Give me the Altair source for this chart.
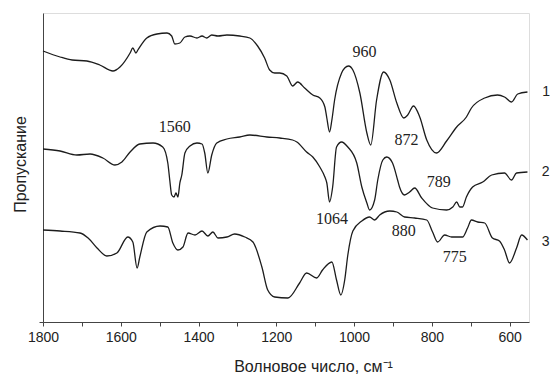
import altair as alt
import pandas as pd

# ---- data (wavenumber, cm-1 ; transmittance, arbitrary units) ----
wn1 = [1800, 1756, 1725, 1687, 1654, 1620, 1602, 1576, 1569, 1561, 1556, 1533, 1507, 1481, 1469, 1461,
       1448, 1435, 1422, 1404, 1391, 1379, 1366, 1350, 1327, 1294, 1268, 1248, 1230, 1217, 1204, 1191,
       1173, 1158, 1145, 1127, 1106, 1088, 1075, 1070, 1063, 1057, 1050, 1032, 1024, 1014, 1003, 985,
       967, 957, 942, 924, 908, 890, 872, 862, 847, 831, 813, 788, 762, 736, 711, 698, 664, 631, 613,
       595, 579, 554]
t1 = [271, 265, 262, 261, 257, 251, 255, 269, 274, 269, 272, 284, 288, 289, 286, 278,
      279, 285, 286, 284, 286, 284, 287, 286, 287, 286, 284, 276, 264, 252, 249, 249,
      246, 236, 240, 234, 227, 224, 215, 204, 190, 202, 222, 249, 254, 256, 252, 229,
      189, 177, 222, 250, 242, 219, 204, 207, 216, 205, 182, 169, 181, 195, 205, 214, 224, 227, 225,
      220, 228, 230]

wn2 = [1800, 1756, 1713, 1679, 1646, 1615, 1597, 1576, 1551, 1517, 1492, 1479, 1474, 1469, 1463, 1458,
       1453, 1448, 1443, 1435, 1422, 1404, 1391, 1384, 1376, 1366, 1353, 1327, 1294, 1268, 1224, 1191,
       1158, 1147, 1122, 1106, 1088, 1075, 1070, 1063, 1055, 1045, 1032, 1016, 993, 980, 967, 960,
       947, 939, 926, 916, 901, 888, 883, 870, 857, 844, 826, 798, 762, 746, 736, 728, 721, 711, 695,
       669, 646, 613, 595, 582, 554]
t2 = [173, 171, 167, 168, 164, 157, 160, 170, 178, 179, 175, 159, 142, 127, 125, 129,
      125, 139, 147, 169, 176, 179, 178, 169, 149, 167, 179, 183, 185, 187, 185, 184,
      182, 180, 170, 165, 155, 145, 139, 120, 135, 175, 180, 175, 159, 135, 119, 112,
      122, 142, 162, 165, 159, 142, 135, 127, 130, 134, 124, 114, 112, 115, 120, 115, 115, 125, 135,
      140, 147, 149, 142, 149, 150]

wn3 = [1800, 1756, 1705, 1684, 1661, 1636, 1610, 1582, 1569, 1558, 1551, 1533, 1499, 1479, 1466, 1453,
       1440, 1427, 1409, 1391, 1376, 1363, 1350, 1327, 1307, 1281, 1260, 1237, 1222, 1204, 1170, 1140,
       1122, 1096, 1081, 1057, 1045, 1034, 1024, 1016, 1003, 980, 960, 947, 934, 908, 890, 870, 844,
       813, 798, 785, 767, 749, 721, 708, 698, 682, 664, 644, 626, 613, 600, 582, 569, 554]
t3 = [92, 91, 89, 84, 74, 66, 69, 85, 80, 54, 65, 90, 96, 95, 79, 72,
      75, 89, 87, 91, 86, 90, 84, 85, 88, 85, 80, 55, 32, 25, 24, 39,
      49, 44, 52, 60, 42, 27, 42, 67, 91, 101, 105, 102, 107, 111, 110, 105, 104,
      102, 90, 80, 87, 85, 85, 94, 102, 100, 99, 84, 81, 72, 59, 74, 87, 82]

peak_text = ["960", "1560", "872", "789", "1064", "880", "775"]
peak_wn = [973, 1461, 865, 782, 1057, 872, 741]
peak_t = [270, 195, 182, 140, 103, 91, 65]

curve_names = ["1", "2", "3"]
curve_label_wn = [506, 507, 507]
curve_label_t = [230, 150, 80]

# ---- tables ----
rows = []
for name, xs, ys in zip(curve_names, [wn1, wn2, wn3], [t1, t2, t3]):
    for i, (x, y) in enumerate(zip(xs, ys)):
        rows.append({"curve": name, "wn": x, "t": y, "order": i})
spectra = pd.DataFrame(rows)
peaks = pd.DataFrame({"label": peak_text, "wn": peak_wn, "t": peak_t})
clabels = pd.DataFrame({"label": curve_names, "wn": curve_label_wn, "t": curve_label_t})

xscale = alt.Scale(domain=[550, 1800], reverse=True, nice=False, zero=False)
yscale = alt.Scale(domain=[0, 309], nice=False, zero=False)

xaxis = alt.Axis(
    values=list(range(600, 1801, 100)),
    format="d",
    labelExpr="datum.value % 200 == 0 ? datum.label : ''",
    labelFlush=False, labelOverlap=False,
    title="Волновое число, см⁻¹",
    titleFont="Liberation Sans", titleFontSize=16, titleFontWeight="normal", titleColor="#222",
    titleX=270, titleY=44, titleAlign="center", titleBaseline="middle",
    labelFont="Liberation Sans", labelFontSize=14, labelColor="#222", labelPadding=4,
    tickSize=4, tickColor="#444", domainColor="#444", grid=False,
)
yaxis = alt.Axis(
    values=[0], labels=False, tickSize=4, tickColor="#444", domainColor="#444", grid=False,
    title="Пропускание",
    titleFont="Liberation Sans", titleFontSize=16, titleFontWeight="normal", titleColor="#222",
    titleX=-23, titleY=151, titleAngle=-90, titleAlign="center", titleBaseline="middle",
)

lines = alt.Chart(spectra).mark_line(
    interpolate="monotone", color="#1c1c1c", strokeWidth=1.3
).encode(
    x=alt.X("wn:Q", scale=xscale, axis=xaxis),
    y=alt.Y("t:Q", scale=yscale, axis=yaxis),
    detail="curve:N",
    order="order:Q",
)

peak_layer = alt.Chart(peaks).mark_text(
    font="Liberation Serif", fontSize=16, color="#222", baseline="middle", align="center"
).encode(x=alt.X("wn:Q", scale=xscale), y=alt.Y("t:Q", scale=yscale), text="label:N")

curve_layer = alt.Chart(clabels).mark_text(
    font="Liberation Sans", fontSize=14, color="#222", baseline="middle", align="center"
).encode(x=alt.X("wn:Q", scale=xscale), y=alt.Y("t:Q", scale=yscale), text="label:N")

chart = alt.layer(lines, peak_layer, curve_layer).properties(
    width=486, height=309,
    autosize=alt.AutoSizeParams(type="none"),
    padding={"left": 35, "top": 5, "right": 22, "bottom": 56},
).configure_view(stroke=None).configure(background="white")

chart.save("out.html", embed_options={"renderer": "svg", "actions": False})
